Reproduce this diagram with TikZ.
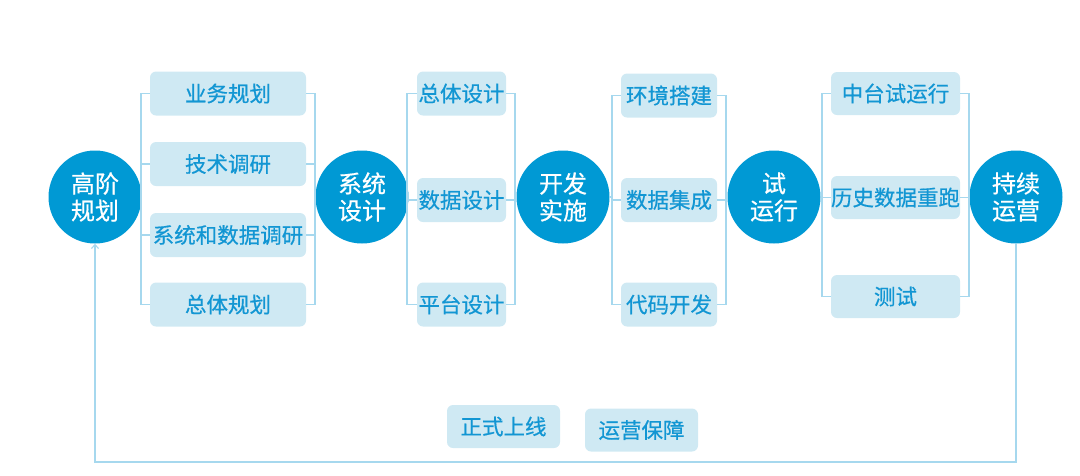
\documentclass[tikz,border=0pt]{standalone}
\usepackage{fontspec}
\newfontfamily\cjk[FakeBold=0.6]{Noto Sans CJK SC}
\usetikzlibrary{arrows.meta}
\definecolor{circblue}{HTML}{0099D4}
\definecolor{boxfill}{HTML}{CFE9F3}
\definecolor{boxtext}{HTML}{1296D3}
\definecolor{linec}{HTML}{A6D8EE}
\tikzset{
  stage/.style={circle,fill=circblue,minimum size=93pt,inner sep=0pt,align=center,text=white,font=\cjk\fontsize{24}{27}\selectfont},
  task/.style={rectangle,rounded corners=6pt,fill=boxfill,text=boxtext,inner sep=0pt,font=\cjk\fontsize{21.5}{25}\selectfont},
  link/.style={draw=linec,line width=1.1pt},
}
\begin{document}
\begin{tikzpicture}[x=1pt,y=-1pt]
\useasboundingbox (0,0) rectangle (1080,475);
% stages
\node[stage] (c1) at (95,197) {高阶\\规划};
\node[stage] (c2) at (362,197) {系统\\设计};
\node[stage] (c3) at (563,197) {开发\\实施};
\node[stage] (c4) at (774,197) {试\\运行};
\node[stage] (c5) at (1016,197) {持续\\运营};
% group 1
\node[task,minimum width=156pt,minimum height=44pt] (b11) at (228,93.5) {业务规划};
\node[task,minimum width=156pt,minimum height=44pt] (b12) at (228,164) {技术调研};
\node[task,minimum width=156pt,minimum height=44pt] (b13) at (228,235) {系统和数据调研};
\node[task,minimum width=156pt,minimum height=44pt] (b14) at (228,304.5) {总体规划};
% group 2
\node[task,minimum width=89pt,minimum height=44pt] (b21) at (461.5,93.5) {总体设计};
\node[task,minimum width=89pt,minimum height=44pt] (b22) at (461.5,200) {数据设计};
\node[task,minimum width=89pt,minimum height=44pt] (b23) at (461.5,304.5) {平台设计};
% group 3
\node[task,minimum width=96pt,minimum height=44pt] (b31) at (669,95.5) {环境搭建};
\node[task,minimum width=96pt,minimum height=44pt] (b32) at (669,200) {数据集成};
\node[task,minimum width=96pt,minimum height=44pt] (b33) at (669,304.5) {代码开发};
% group 4
\node[task,minimum width=129pt,minimum height=43pt] (b41) at (895.5,93.5) {中台试运行};
\node[task,minimum width=129pt,minimum height=43pt] (b42) at (895.5,197.5) {历史数据重跑};
\node[task,minimum width=129pt,minimum height=43pt] (b43) at (895.5,296.5) {测试};
% bottom
\node[task,minimum width=113pt,minimum height=43pt] (o1) at (503.5,426.5) {正式上线};
\node[task,minimum width=113pt,minimum height=43pt] (o2) at (641.5,430) {运营保障};
% bracket coordinates
\coordinate (g1L) at (141,200);
\coordinate (g1R) at (315,200);
\coordinate (g2L) at (407,200);
\coordinate (g2R) at (515,200);
\coordinate (g3L) at (612,200);
\coordinate (g3R) at (726,200);
\coordinate (g4L) at (822,200);
\coordinate (g4R) at (969,200);
\coordinate (fb) at (500,462);
% group 1 brackets
\draw[link] (b11.west) -| (g1L) |- (b14.west);
\draw[link] (b12.west) -- (b12.west -| g1L);
\draw[link] (b13.west) -- (b13.west -| g1L);
\draw[link] (c1.east) -- (c1.east -| g1L);
\draw[link] (b11.east) -| (g1R) |- (b14.east);
\draw[link] (b12.east) -- (b12.east -| g1R);
\draw[link] (b13.east) -- (b13.east -| g1R);
\draw[link] (c2.west) -- (c2.west -| g1R);
% group 2 brackets
\draw[link] (b21.west) -| (g2L) |- (b23.west);
\draw[link] (b22.west) -- (b22.west -| g2L);
\draw[link] (c2.east) -- (c2.east -| g2L);
\draw[link] (b21.east) -| (g2R) |- (b23.east);
\draw[link] (b22.east) -- (b22.east -| g2R);
\draw[link] (c3.west) -- (c3.west -| g2R);
% group 3 brackets
\draw[link] (b31.west) -| (g3L) |- (b33.west);
\draw[link] (b32.west) -- (b32.west -| g3L);
\draw[link] (c3.east) -- (c3.east -| g3L);
\draw[link] (b31.east) -| (g3R) |- (b33.east);
\draw[link] (b32.east) -- (b32.east -| g3R);
\draw[link] (c4.west) -- (c4.west -| g3R);
% group 4 brackets
\draw[link] (b41.west) -| (g4L) |- (b43.west);
\draw[link] (b42.west) -- (b42.west -| g4L);
\draw[link] (c4.east) -- (c4.east -| g4L);
\draw[link] (b41.east) -| (g4R) |- (b43.east);
\draw[link] (b42.east) -- (b42.east -| g4R);
\draw[link] (c5.west) -- (c5.west -| g4R);
% feedback loop
\draw[link,-{Straight Barb[length=4pt,width=7pt]}] (c5.south) |- (fb) -| (c1.south);
\end{tikzpicture}
\end{document}
